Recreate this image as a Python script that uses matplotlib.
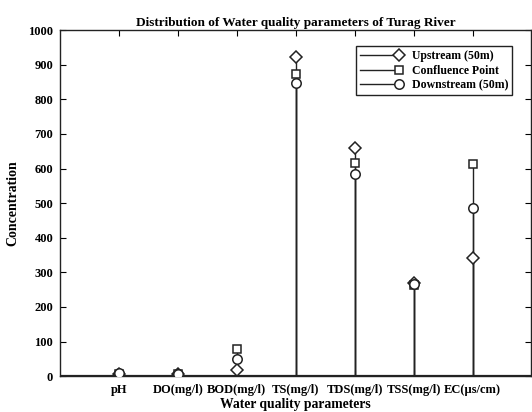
import numpy as np
import matplotlib
matplotlib.use("Agg")
import matplotlib.pyplot as plt
from matplotlib.lines import Line2D
from matplotlib.legend_handler import HandlerLine2DCompound

categories = ["pH", "DO(mg/l)", "BOD(mg/l)", "TS(mg/l)", "TDS(mg/l)", "TSS(mg/l)", "EC(\u00b5s/cm)"]
upstream = [7.5, 5.5, 17, 921, 659, 268, 342]
confluence = [7.2, 4.8, 78, 873, 616, 262, 613]
downstream = [8.0, 5.0, 49, 848, 584, 265, 486]

series_names = ["Upstream (50m)", "Confluence Point", "Downstream (50m)"]
series_markers = ["D", "s", "o"]
series_sizes = [6, 5.5, 6.8]

plt.rcParams["font.family"] = ["Liberation Serif", "DejaVu Serif"]
plt.rcParams["font.weight"] = "bold"


class MarkerAtEnd(HandlerLine2DCompound):
    """Legend line with the marker drawn at its right end."""
    def get_xdata(self, legend, xdescent, ydescent, width, height, fontsize):
        xdata = np.array([-xdescent, -xdescent + width])
        return xdata, np.array([-xdescent + width])


fig = plt.figure(figsize=(5.32, 4.12), dpi=100)
ax = fig.add_axes([0.113, 0.087, 0.886, 0.840])

x = np.arange(1, len(categories) + 1)
color = "#222222"
handles = []
for vals, name, mk, ms in zip([upstream, confluence, downstream], series_names, series_markers, series_sizes):
    ax.vlines(x, 0, vals, color=color, lw=1.0, zorder=2)
    ax.plot(x, vals, linestyle="none", marker=mk, ms=ms, mfc="white", mec=color, mew=1.1, zorder=3)
    handles.append(Line2D([], [], color=color, lw=1.0, marker=mk, ms=ms, mfc="white", mec=color, mew=1.1, label=name))

ax.axhline(0, color=color, lw=1.6, zorder=2)

ax.set_xlim(0, 8)
ax.set_ylim(0, 1000)
ax.set_xticks(x)
ax.set_xticklabels(categories, fontsize=9, fontweight="bold")
ax.set_yticks(np.arange(0, 1001, 100))
ax.tick_params(axis="y", labelsize=9, direction="in", length=4, right=True, width=0.8, pad=5)
ax.tick_params(axis="x", direction="in", length=4, top=True, width=0.8, pad=6)
for sp in ax.spines.values():
    sp.set_linewidth(1.0)
    sp.set_color(color)

ax.set_title("Distribution of Water quality parameters of Turag River", fontsize=9.5, fontweight="bold", pad=3)
ax.set_xlabel("Water quality parameters", fontsize=9.8, fontweight="bold", labelpad=1)
ax.set_ylabel("Concentration", fontsize=10, fontweight="bold", labelpad=6)

leg = ax.legend(handles=handles, loc="upper right", bbox_to_anchor=(0.972, 0.97),
                handler_map={Line2D: MarkerAtEnd()}, fancybox=False, framealpha=1,
                edgecolor=color, handlelength=3.3, handletextpad=1.1,
                borderpad=0.35, labelspacing=0.2, prop={"weight": "bold", "size": 8.5})
leg.get_frame().set_linewidth(1.0)

fig.savefig("out.png", dpi=100)
